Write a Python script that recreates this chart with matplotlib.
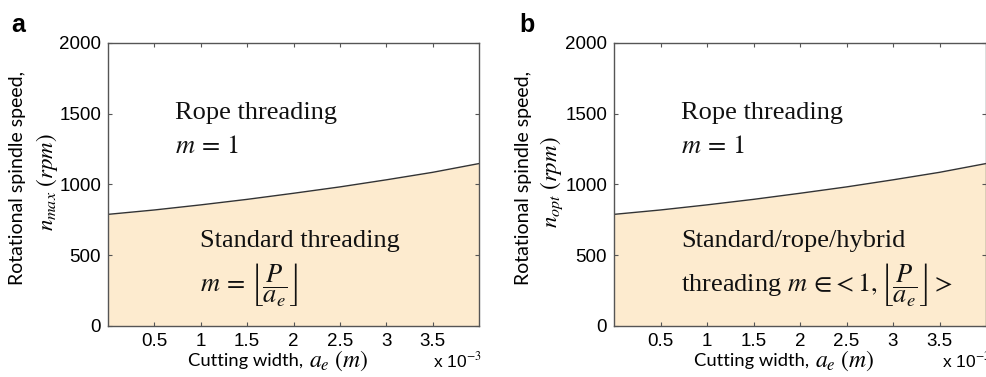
import matplotlib
matplotlib.use("Agg")
import matplotlib.pyplot as plt
import numpy as np

# Data (x in metres, y in rpm)
cut_width = np.array([0.0, 0.5, 1.0, 1.5, 2.0, 2.5, 3.0, 3.5, 4.0]) * 1e-3
speed_a = [789, 820, 856, 895, 938, 983, 1033, 1086, 1148]
speed_b = [789, 820, 856, 895, 938, 983, 1033, 1086, 1148]
x_ticks = [0.5e-3, 1.0e-3, 1.5e-3, 2.0e-3, 2.5e-3, 3.0e-3, 3.5e-3]
x_tick_labels = ["0.5", "1", "1.5", "2", "2.5", "3", "3.5"]
y_ticks = [0, 500, 1000, 1500, 2000]
y_tick_labels = ["0", "500", "1000", "1500", "2000"]

plt.rcParams['mathtext.fontset'] = 'stix'

W, H = 986, 377
fig = plt.figure(figsize=(W / 100, H / 100), dpi=100)

fill_color = '#FDEBCF'
spine_color = '#555555'

def px_axes(left, right, top, bottom):
    return [left / W, 1 - bottom / H, (right - left) / W, (bottom - top) / H]

panels = [
    dict(left=108, right=479, y=speed_a, sub='max', letter='a',
         letter_x=11, xlab10=433, ylab_x=(18, 47),
         lines=[("Rope threading", 0.181, 0.752),
                ("$m\\,=\\,1$", 0.181, 0.632),
                ("Standard threading", 0.248, 0.300),
                ("$m\\,=\\,\\left\\lfloor\\dfrac{P}{a_e}\\right\\rfloor$", 0.248, 0.148)]),
    dict(left=614, right=986, y=speed_b, sub='opt', letter='b',
         letter_x=519, xlab10=942, ylab_x=(523, 552),
         lines=[("Rope threading", 0.181, 0.752),
                ("$m\\,=\\,1$", 0.181, 0.632),
                ("Standard/rope/hybrid", 0.181, 0.300),
                ("threading $m\\,\\in\\!<1,\\left\\lfloor\\dfrac{P}{a_e}\\right\\rfloor>$", 0.181, 0.148)]),
]

for p in panels:
    ax = fig.add_axes(px_axes(p['left'], p['right'], 43, 326))
    ax.fill_between(cut_width, 0, p['y'], color=fill_color, lw=0)
    ax.plot(cut_width, p['y'], color='#333333', lw=1.0)
    ax.set_xlim(0, 4e-3)
    ax.set_ylim(0, 2000)
    ax.set_xticks(x_ticks)
    ax.set_xticklabels(x_tick_labels, fontfamily='Liberation Sans', fontsize=13.5)
    ax.set_yticks(y_ticks)
    ax.set_yticklabels(y_tick_labels, fontfamily='Liberation Sans', fontsize=13.5)
    ax.tick_params(direction='in', length=3, width=0.8, color=spine_color,
                   top=True, right=True, pad=5)
    for s in ax.spines.values():
        s.set_color(spine_color)
        s.set_linewidth(1.0)
    # x label: sans part + math part
    fig.text((p['left'] + 195) / W, 1 - 361 / H, "Cutting width,", fontfamily='Lato',
             fontsize=13.2, ha='right', va='center')
    fig.text((p['left'] + 201) / W, 1 - 361 / H, "$a_e\\ (m)$", fontsize=17,
             ha='left', va='center')
    # y label: two lines
    fig.text(p['ylab_x'][0] / W, 1 - 178 / H, "Rotational spindle speed,", fontfamily='Lato',
             fontsize=14, ha='center', va='center', rotation=90)
    fig.text(p['ylab_x'][1] / W, 1 - 182 / H, "$n_{%s}\\ (rpm)$" % p['sub'],
             fontsize=16.5, ha='center', va='center', rotation=90)
    for txt, tx, ty in p['lines']:
        ax.text(tx, ty, txt, transform=ax.transAxes, fontfamily='Liberation Serif',
                fontsize=19, ha='left', va='center', color='#111111')
    fig.text(p['letter_x'] / W, 1 - 25 / H, p['letter'], fontfamily='Liberation Sans',
             fontweight='bold', fontsize=18, ha='left', va='center')
    fig.text(p['xlab10'] / W, 1 - 360 / H, "x 10$^{-3}$", fontfamily='Liberation Sans',
             fontsize=12.5, ha='left', va='center')

fig.savefig("out.png", dpi=100)
